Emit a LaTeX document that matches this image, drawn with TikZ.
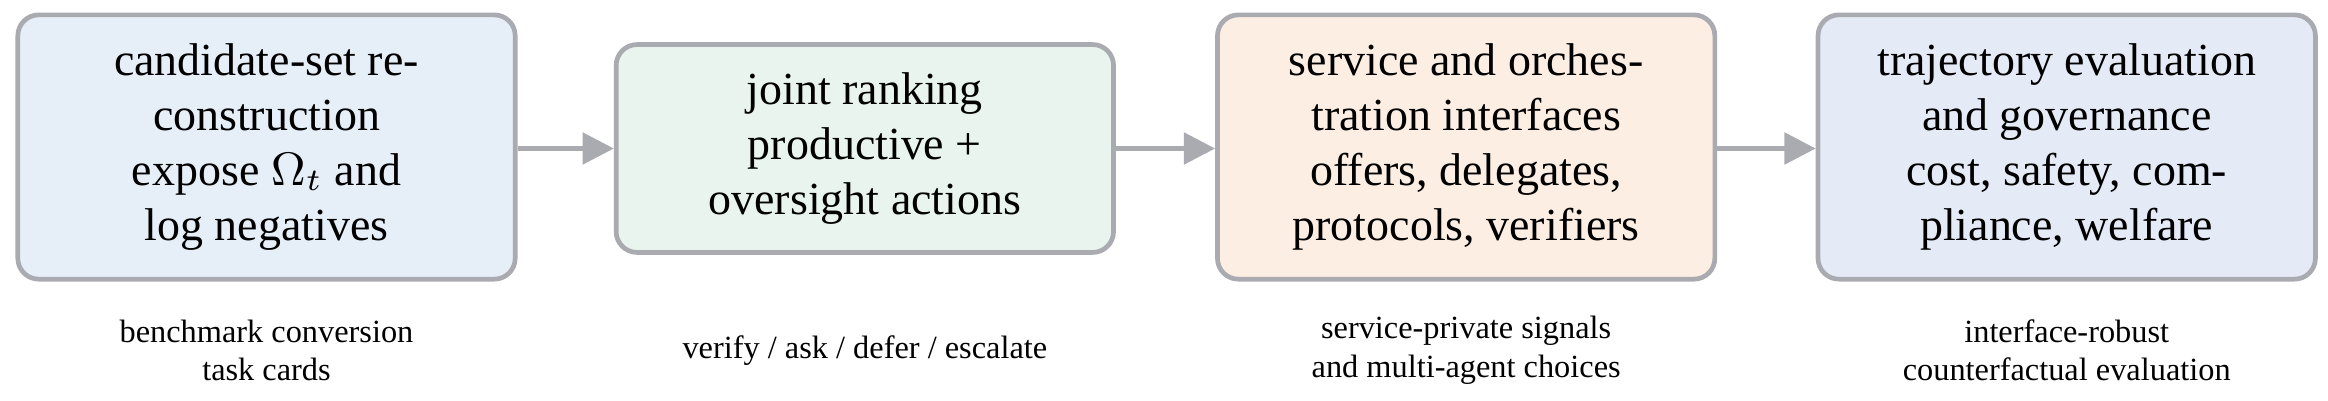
\documentclass[tikz,border=0pt]{standalone}
\usepackage{fontspec}
\setmainfont{Liberation Serif}
\usetikzlibrary{arrows.meta}
\definecolor{myborder}{RGB}{170,171,176}
\definecolor{myblue}{RGB}{230,238,248}
\definecolor{mygreen}{RGB}{232,244,237}
\definecolor{myorange}{RGB}{252,238,226}
\definecolor{mygrayblue}{RGB}{229,235,246}

\begin{document}
\begin{tikzpicture}[
    stage/.style={draw=myborder, line width=0.9pt, rounded corners=4pt,
        minimum width=3.35cm, align=center, font=\fontsize{8.8}{10.5}\selectfont},
    caption/.style={align=center, font=\fontsize{6.2}{7.4}\selectfont},
    flow/.style={draw=myborder, line width=0.9pt, -{Triangle[length=6pt, width=6pt]}}
]
    \useasboundingbox (0, 0) rectangle (15.68, -2.70);
    % Stages
    \node[stage, fill=myblue, minimum height=1.78cm] (Cand) at (1.795, -0.99)
        {candidate-set re-\\construction\\expose $\Omega_t$ and\\log negatives};
    \node[stage, fill=mygreen, minimum height=1.40cm] (Rank) at (5.825, -1.00)
        {joint ranking\\productive +\\oversight actions};
    \node[stage, fill=myorange, minimum height=1.78cm] (Serv) at (9.875, -0.99)
        {service and orches-\\tration interfaces\\offers, delegates,\\protocols, verifiers};
    \node[stage, fill=mygrayblue, minimum height=1.78cm] (Traj) at (13.92, -0.99)
        {trajectory evaluation\\and governance\\cost, safety, com-\\pliance, welfare};
    % Captions
    \node[caption] (CandCap) at (1.795, -2.36) {benchmark conversion\\task cards};
    \node[caption] (RankCap) at (5.825, -2.36) {verify / ask / defer / escalate};
    \node[caption] (ServCap) at (9.875, -2.36) {service-private signals\\and multi-agent choices};
    \node[caption] (TrajCap) at (13.92, -2.36) {interface-robust\\counterfactual evaluation};
    % Arrows
    \draw[flow] (Cand.east |- Rank.west) -- (Rank.west);
    \draw[flow] (Rank.east) -- (Serv.west |- Rank.east);
    \draw[flow] (Serv.east |- Rank.east) -- (Traj.west |- Rank.east);
\end{tikzpicture}
\end{document}
